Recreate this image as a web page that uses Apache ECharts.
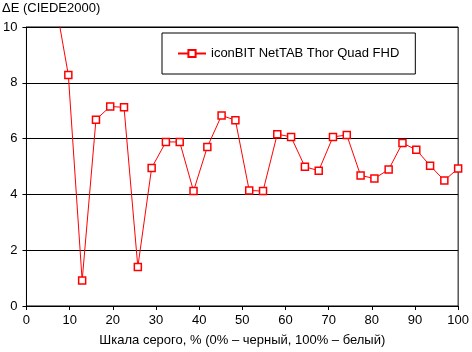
<!DOCTYPE html>
<html>
<head>
<meta charset="utf-8">
<script src="https://cdn.jsdelivr.net/npm/echarts@6/dist/echarts.min.js"></script>
<style>
  html, body { margin: 0; padding: 0; background: #fff; }
  #chart { width: 472px; height: 352px; }
</style>
</head>
<body>
<div id="chart"></div>
<script>
// серые ступени, % (шаг 100/31); первая видимая точка уходит за верх графика
const grayLevels = [6.5, 9.7, 12.9, 16.1, 19.4, 22.6, 25.8, 29.0, 32.3, 35.5, 38.7, 41.9, 45.2,
  48.4, 51.6, 54.8, 58.1, 61.3, 64.5, 67.7, 71.0, 74.2, 77.4, 80.6, 83.9, 87.1, 90.3, 93.5, 96.8, 100];
const deltaE = [11.1, 8.28, 0.91, 6.68, 7.15, 7.12, 1.40, 4.95, 5.88, 5.88, 4.12, 5.70, 6.83,
  6.66, 4.14, 4.12, 6.16, 6.06, 4.99, 4.85, 6.06, 6.13, 4.68, 4.57, 4.89, 5.84, 5.60, 5.03, 4.50, 4.93];
const xTicks = [0, 10, 20, 30, 40, 50, 60, 70, 80, 90, 100];
const yTicks = [0, 2, 4, 6, 8, 10];
const seriesName = "iconBIT NetTAB Thor Quad FHD";

const chart = echarts.init(document.getElementById("chart"));
const font = "Liberation Sans, Arial, sans-serif";

const option = {
  animation: false,
  textStyle: { fontFamily: font, color: "#000" },
  title: {
    text: "ΔE (CIEDE2000)",
    left: -3,
    top: -3,
    textStyle: { fontSize: 13, fontWeight: "normal", color: "#000", fontFamily: font },
  },
  grid: {
    left: 23,
    right: 9,
    top: 27,
    bottom: 43,
    show: true, // рамка — даёт правую границу
    borderColor: "#000",
    borderWidth: 1,
  },
  legend: {
    left: 162,
    top: 33,
    padding: [14, 16, 14, 15],
    itemGap: 0,
    itemWidth: 28,
    itemHeight: 9,
    borderColor: "#000",
    borderWidth: 1,
    backgroundColor: "#fff",
    textStyle: { fontSize: 13, color: "#000", fontFamily: font },
    data: [seriesName],
  },
  xAxis: {
    type: "value",
    min: xTicks[0],
    max: xTicks[xTicks.length - 1],
    interval: 10,
    name: "Шкала серого, % (0% – черный, 100% – белый)",
    nameLocation: "middle",
    nameGap: 28,
    nameTextStyle: { fontSize: 13, color: "#000", fontFamily: font },
    axisLine: { onZero: false, lineStyle: { color: "#000", width: 1 } },
    axisTick: { show: true, length: 4, lineStyle: { color: "#000" } },
    axisLabel: { fontSize: 13, color: "#000", margin: 8, fontFamily: font },
    splitLine: { show: false },
  },
  yAxis: {
    type: "value",
    min: yTicks[0],
    max: yTicks[yTicks.length - 1],
    interval: 2,
    axisLine: { show: true, onZero: false, lineStyle: { color: "#000", width: 1 } },
    axisTick: { show: true, length: 4, lineStyle: { color: "#000" } },
    axisLabel: { fontSize: 13, color: "#000", margin: 9, fontFamily: font },
    splitLine: { show: true, lineStyle: { color: "#000", width: 1 } },
  },
  series: [
    {
      name: seriesName,
      type: "line",
      data: grayLevels.map((x, i) => [x, deltaE[i]]),
      clip: true,
      symbol: "rect",
      symbolSize: 7,
      lineStyle: { color: "#ff0000", width: 1 },
      itemStyle: { color: "#fff", borderColor: "#ff0000", borderWidth: 1.5 },
    },
  ],
};
chart.setOption(option);
</script>
</body>
</html>
